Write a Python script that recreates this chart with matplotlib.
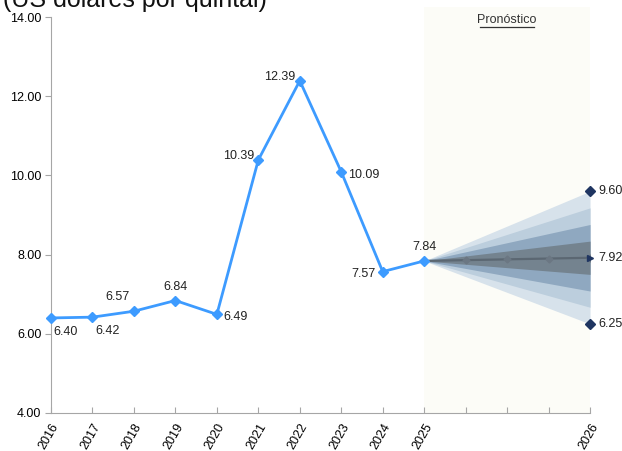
import matplotlib
matplotlib.use("Agg")
import matplotlib.pyplot as plt
from matplotlib.patches import Rectangle

plt.rcParams['font.family'] = ['Liberation Sans', 'DejaVu Sans']

# Historical prices (US$ per quintal)
years_hist = ["2016", "2017", "2018", "2019", "2020", "2021", "2022", "2023", "2024", "2025"]
price_hist = [6.40, 6.42, 6.57, 6.84, 6.49, 10.39, 12.39, 10.09, 7.57, 7.84]

# Forecast path (quarterly steps from 2025 to 2026)
forecast_center = [7.84, 7.86, 7.88, 7.90, 7.92]
# Fan chart band limits reached at 2026 (inner to outer)
band_upper_end = [8.34, 8.76, 9.18, 9.60]
band_lower_end = [7.50, 7.08, 6.67, 6.25]
band_colors = ["#74838f", "#8fa8c0", "#bccedd", "#d7e2eb"]

tick_labels = years_hist + ["", "", "", "2026"]

fig = plt.figure(figsize=(6.22, 4.51), dpi=100)
ax = fig.add_axes([0.082, 0.0843, 0.8666, 0.878])

n_hist = len(years_hist)
x_hist = list(range(n_hist))
x_fc = list(range(n_hist - 1, n_hist - 1 + len(forecast_center)))
x_end = x_fc[-1]
x_start = x_fc[0]

# Forecast shaded area
ax.add_patch(Rectangle((x_start, 0), x_end - x_start, 1.025,
                       transform=ax.get_xaxis_transform(), facecolor="#fcfcf7",
                       edgecolor="none", clip_on=False, zorder=0))
ax.text((x_start + x_end) / 2, 13.78, "Pronóstico", ha="center", va="bottom",
        fontsize=9, color="#333333", zorder=5)
ax.plot([x_start + 1.34, x_end - 1.34], [13.76, 13.76], color="#333333", lw=0.9)

# Fan bands, outer first
start_val = forecast_center[0]
for up, lo, col in reversed(list(zip(band_upper_end, band_lower_end, band_colors))):
    ax.fill_between([x_start, x_end], [start_val, lo], [start_val, up],
                    color=col, lw=0, zorder=2)

# Forecast centre line
ax.plot(x_fc, forecast_center, color="#5b6772", lw=1.6, marker="D", ms=3.5,
        markerfacecolor="#6b7783", markeredgecolor="#6b7783", zorder=3)

# End markers
ax.plot([x_end, x_end], [band_upper_end[-1], band_lower_end[-1]], ls="none",
        marker="D", ms=5, color="#1f3561", zorder=4, clip_on=False)
ax.plot([x_end], [forecast_center[-1]], ls="none", marker=">", ms=5,
        color="#1f3561", zorder=4, clip_on=False)

# Historical line
ax.plot(x_hist, price_hist, color="#3d9bff", lw=2, marker="D", ms=5,
        zorder=4, clip_on=False)

# Data labels
offsets = [(2, -10, "left"), (2, -10, "left"), (-3, 10, "right"), (0, 10, "center"),
           (5, -2, "left"), (-3, 3, "right"), (-3, 3, "right"), (5, -2, "left"),
           (-5, -2, "right"), (0, 10, "center")]
for xi, v, (dx, dy, ha) in zip(x_hist, price_hist, offsets):
    ax.annotate(f"{v:.2f}", (xi, v), xytext=(dx, dy), textcoords="offset points",
                ha=ha, va="center", fontsize=9, color="#222222", zorder=6)
for v in [band_upper_end[-1], forecast_center[-1], band_lower_end[-1]]:
    ax.annotate(f"{v:.2f}", (x_end, v), xytext=(6, 0), textcoords="offset points",
                ha="left", va="center", fontsize=9, color="#222222",
                annotation_clip=False, zorder=6)

ax.set_xlim(0, x_end)
ax.set_ylim(4, 14)
ax.set_yticks([4, 6, 8, 10, 12, 14])
ax.set_yticklabels([f"{t:.2f}" for t in [4, 6, 8, 10, 12, 14]], fontsize=9)
ax.set_xticks(range(len(tick_labels)))
ax.set_xticklabels(tick_labels, rotation=60, ha="right", va="top",
                   rotation_mode="anchor", fontsize=9)

for s in ["top", "right"]:
    ax.spines[s].set_visible(False)
for s in ["left", "bottom"]:
    ax.spines[s].set_color("#a6a6a6")
ax.tick_params(axis="y", direction="out", length=4, color="#a6a6a6", pad=3)
ax.tick_params(axis="x", direction="in", length=4, color="#a6a6a6", pad=6)

fig.text(0.005, 0.9845, "(US dólares por quintal)", ha="left", va="baseline",
         fontsize=18, color="#111111")

fig.savefig("out.png", dpi=100)
